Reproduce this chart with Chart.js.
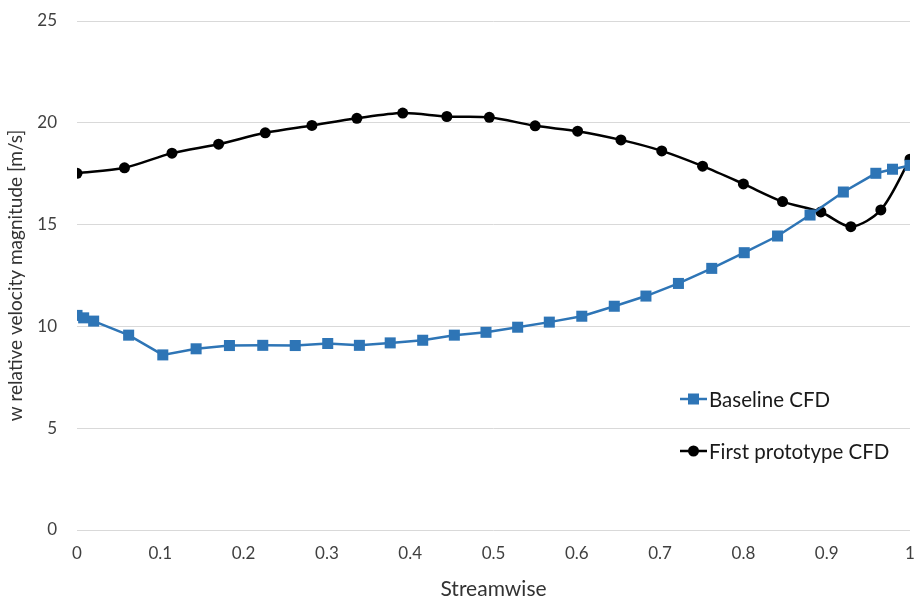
<!DOCTYPE html>
<html>
<head>
<meta charset="utf-8">
<script src="https://cdn.jsdelivr.net/npm/chart.js@4"></script>
<style>
  html, body { margin: 0; padding: 0; background: #fff; }
  #wrap { width: 920px; height: 606px; }
</style>
</head>
<body>
<div id="wrap"><canvas id="chart" width="920" height="606"></canvas></div>
<script>
// values
const baselineX = [0, 0.008, 0.02, 0.062, 0.103, 0.143, 0.183, 0.223, 0.262, 0.301, 0.339, 0.376, 0.415, 0.453, 0.491,
                   0.529, 0.567, 0.606, 0.645, 0.683, 0.722, 0.762, 0.801, 0.841, 0.880, 0.920, 0.959, 0.979, 1.0];
const baselineY = [10.54, 10.42, 10.26, 9.57, 8.60, 8.90, 9.06, 9.07, 9.06, 9.16, 9.07, 9.19, 9.32, 9.57, 9.71,
                   9.96, 10.21, 10.50, 10.99, 11.49, 12.11, 12.85, 13.62, 14.44, 15.47, 16.60, 17.52, 17.72, 17.91];
const protoX = [0, 0.057, 0.114, 0.170, 0.226, 0.282, 0.336, 0.391, 0.444, 0.495, 0.550,
                0.601, 0.653, 0.702, 0.751, 0.800, 0.847, 0.893, 0.929, 0.965, 1.0];
const protoY = [17.52, 17.79, 18.51, 18.95, 19.51, 19.87, 20.22, 20.48, 20.31, 20.27, 19.85,
                19.59, 19.16, 18.62, 17.87, 17.00, 16.13, 15.62, 14.90, 15.72, 18.21];
const seriesNames = ['Baseline CFD', 'First prototype CFD'];
const xTicks = [0, 0.1, 0.2, 0.3, 0.4, 0.5, 0.6, 0.7, 0.8, 0.9, 1];
const yTicks = [0, 5, 10, 15, 20, 25];

const FONT = 'Lato, "Open Sans", sans-serif';

// legend drawn inside the plot, Excel style
const insideLegend = {
    id: 'insideLegend',
    afterDraw(chart) {
        const ctx = chart.ctx;
        const rows = [399, 451];
        ctx.save();
        chart.data.datasets.forEach((ds, i) => {
            const y = rows[i];
            ctx.strokeStyle = ds.borderColor;
            ctx.lineWidth = 2.5;
            ctx.beginPath();
            ctx.moveTo(680, y);
            ctx.lineTo(707, y);
            ctx.stroke();
            ctx.fillStyle = ds.pointBackgroundColor;
            if (ds.pointStyle === 'rect') {
                ctx.fillRect(688, y - 5.5, 11, 11);
            } else {
                ctx.beginPath();
                ctx.arc(693.5, y, 5.5, 0, Math.PI * 2);
                ctx.fill();
            }
            ctx.fillStyle = '#1a1a1a';
            ctx.font = '20.5px ' + FONT;
            ctx.textBaseline = 'middle';
            ctx.fillText(ds.label, 709, y + 1);
        });
        ctx.restore();
    }
};

new Chart(document.getElementById('chart'), {
    type: 'scatter',
    data: {
        datasets: [{
            label: seriesNames[0],
            data: baselineX.map((x, i) => ({ x: x, y: baselineY[i] })),
            showLine: true,
            borderColor: '#2e75b6',
            backgroundColor: '#2e75b6',
            pointBackgroundColor: '#2e75b6',
            pointBorderWidth: 0,
            pointStyle: 'rect',
            pointRadius: 7.8,
            borderWidth: 2.5,
            tension: 0
        }, {
            label: seriesNames[1],
            data: protoX.map((x, i) => ({ x: x, y: protoY[i] })),
            showLine: true,
            borderColor: '#000000',
            backgroundColor: '#000000',
            pointBackgroundColor: '#000000',
            pointBorderWidth: 0,
            pointStyle: 'circle',
            pointRadius: 5.5,
            borderWidth: 2.5,
            tension: 0.3
        }]
    },
    options: {
        responsive: false,
        animation: false,
        layout: { padding: { top: 21, right: 10, left: 0, bottom: 0 } },
        plugins: { legend: { display: false }, tooltip: { enabled: false } },
        scales: {
            x: {
                type: 'linear', min: 0, max: 1,
                afterBuildTicks: s => { s.ticks = xTicks.map(v => ({ value: v })); },
                afterFit: s => { s.height = 76; s.paddingLeft = 0; s.paddingRight = 0; },
                grid: { display: false, drawTicks: false },
                border: { display: false },
                ticks: { color: '#404040', font: { family: FONT, size: 17 }, padding: 13, maxRotation: 0, callback: v => String(v) },
                title: { display: true, text: 'Streamwise', color: '#333333', font: { family: FONT, size: 21 }, padding: { top: 3 } }
            },
            y: {
                type: 'linear', min: 0, max: 25,
                afterBuildTicks: s => { s.ticks = yTicks.map(v => ({ value: v })); },
                afterFit: s => { s.width = 77; s.paddingTop = 0; s.paddingBottom = 0; },
                grid: { color: '#d9d9d9', lineWidth: 1, drawTicks: false },
                border: { display: false },
                ticks: { color: '#404040', font: { family: FONT, size: 17 }, padding: 20 },
                title: { display: true, text: 'w relative velocity magnitude [m/s]', color: '#333333', font: { family: FONT, size: 19 }, padding: { bottom: 2 } }
            }
        }
    },
    plugins: [insideLegend]
});
</script>
</body>
</html>
